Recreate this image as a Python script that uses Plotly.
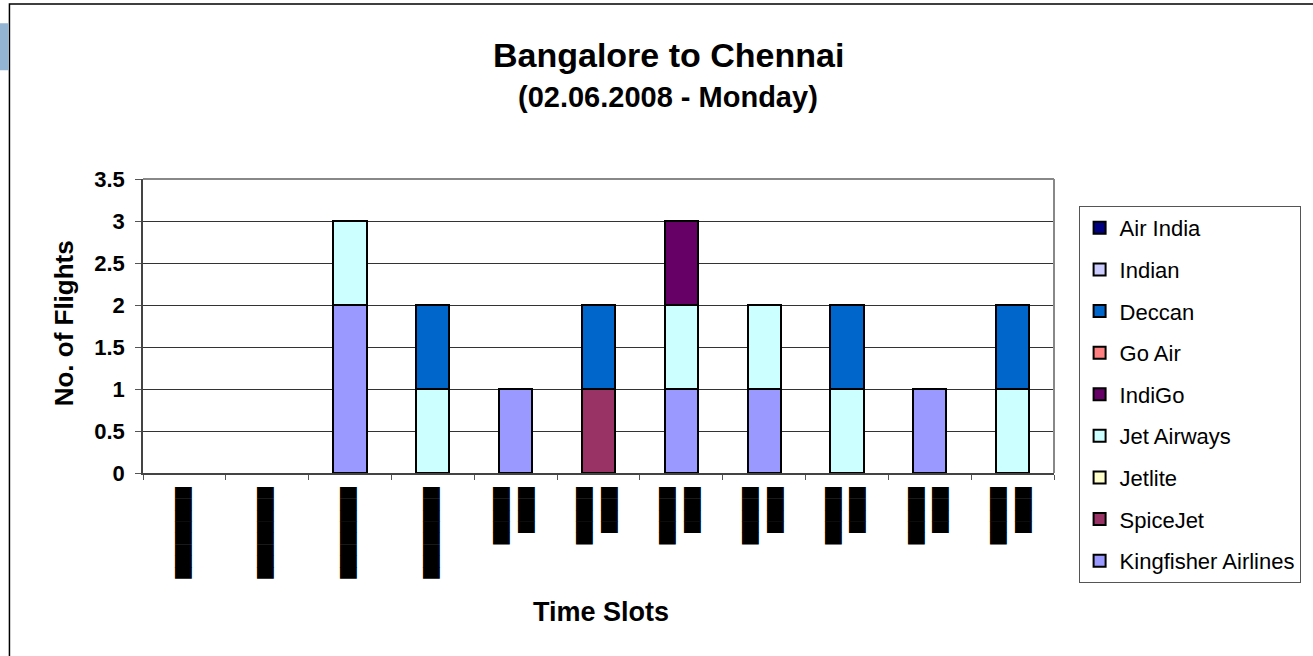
import plotly.graph_objects as go

# time slots (their labels are blacked out in the source chart)
slots = ["s1", "s2", "s3", "s4", "s5", "s6", "s7", "s8", "s9", "s10", "s11"]
BAR = "\u2586"
slot_labels = [
    BAR * 8, BAR * 8, BAR * 8, BAR * 8,
    BAR * 5 + "<br>" + BAR * 4,
    BAR * 5 + "<br>" + BAR * 4,
    BAR * 5 + "<br>" + BAR * 4,
    BAR * 5 + "<br>" + BAR * 4,
    BAR * 5 + "<br>" + BAR * 4,
    BAR * 5 + "<br>" + BAR * 4,
    BAR * 5 + "<br>" + BAR * 4,
]

# flights per airline per slot (stack order bottom -> top)
kingfisher = [0, 0, 2, 0, 1, 0, 1, 1, 0, 1, 0]
spicejet = [0, 0, 0, 0, 0, 1, 0, 0, 0, 0, 0]
jetlite = [0, 0, 0, 0, 0, 0, 0, 0, 0, 0, 0]
jet_airways = [0, 0, 1, 1, 0, 0, 1, 1, 1, 0, 1]
indigo = [0, 0, 0, 0, 0, 0, 1, 0, 0, 0, 0]
go_air = [0, 0, 0, 0, 0, 0, 0, 0, 0, 0, 0]
deccan = [0, 0, 0, 1, 0, 1, 0, 0, 1, 0, 1]
indian = [0, 0, 0, 0, 0, 0, 0, 0, 0, 0, 0]
air_india = [0, 0, 0, 0, 0, 0, 0, 0, 0, 0, 0]

series = [
    ("Kingfisher Airlines", kingfisher, "#9999FF"),
    ("SpiceJet", spicejet, "#993366"),
    ("Jetlite", jetlite, "#FFFFCC"),
    ("Jet Airways", jet_airways, "#CCFFFF"),
    ("IndiGo", indigo, "#660066"),
    ("Go Air", go_air, "#FF8080"),
    ("Deccan", deccan, "#0066CC"),
    ("Indian", indian, "#CCCCFF"),
    ("Air India", air_india, "#000080"),
]

FONT = "Liberation Sans, Arial, sans-serif"

fig = go.Figure()
for i, (name, vals, col) in enumerate(series):
    fig.add_trace(go.Bar(
        x=slots, y=[v if v else None for v in vals], name=name,
        legendgroup=name, legendrank=len(series) - i,
        marker=dict(color=col, line=dict(color="black", width=2)),
    ))

fig.update_layout(
    width=1313, height=656,
    barmode="stack", bargap=0.6,
    paper_bgcolor="white", plot_bgcolor="white",
    margin=dict(l=143, r=256, t=179, b=183),
    font=dict(family=FONT, color="black"),
    legend=dict(
        x=1.027, xanchor="left", y=0.908, yanchor="top",
        traceorder="grouped", tracegroupgap=10, maxheight=500,
        font=dict(size=22, family=FONT),
        bordercolor="#555", borderwidth=1, bgcolor="white",
    ),
    showlegend=True,
)

fig.update_yaxes(
    range=[0, 3.5], dtick=0.5,
    showgrid=True, gridcolor="#333", gridwidth=1,
    showline=True, linecolor="#444", linewidth=1.5,
    ticks="outside", ticklen=6, tickcolor="#555",
    tickfont=dict(size=22, family=FONT, weight="bold"), tickformat="~g",
    ticklabelstandoff=6,
)
fig.update_xaxes(
    tickmode="array", tickvals=slots, ticktext=slot_labels,
    tickangle=-90, tickson="boundaries",
    ticks="outside", ticklen=5, tickcolor="#555",
    tickfont=dict(size=19, family="DejaVu Sans Mono", color="black"),
    ticklabelstandoff=5, ticklabelshift=-4,
    showline=True, linecolor="#444", linewidth=1.5,
)

# plot area top/right border in grey
fig.add_shape(type="line", xref="paper", yref="paper", x0=0, x1=1, y0=1, y1=1,
              line=dict(color="#888", width=2))
fig.add_shape(type="line", xref="paper", yref="paper", x0=1, x1=1, y0=0, y1=1,
              line=dict(color="#888", width=2))
# outer chart frame and small tab at left
fig.add_shape(type="rect", xref="paper", yref="paper", x0=-0.1466, x1=1.4, y0=-1.0, y1=1.595,
              line=dict(color="black", width=1.5), fillcolor="rgba(0,0,0,0)", layer="below")
fig.add_shape(type="rect", xref="paper", yref="paper", x0=-0.17, x1=-0.1475, y0=1.37, y1=1.53,
              line=dict(width=0), fillcolor="#93B5D3")

# titles
fig.add_annotation(text="<b>Bangalore to Chennai</b>", xref="paper", yref="paper",
                   x=0.5766, y=1.422, xanchor="center", yanchor="middle",
                   showarrow=False, font=dict(size=34, family=FONT))
fig.add_annotation(text="<b>(02.06.2008 - Monday)</b>", xref="paper", yref="paper",
                   x=0.5766, y=1.279, xanchor="center", yanchor="middle",
                   showarrow=False, font=dict(size=29, family=FONT))
fig.add_annotation(text="<b>No. of Flights</b>", xref="paper", yref="paper",
                   x=-0.0864, y=0.51, xanchor="center", yanchor="middle", textangle=-90,
                   showarrow=False, font=dict(size=26, family=FONT))
fig.add_annotation(text="<b>Time Slots</b>", xref="paper", yref="paper",
                   x=0.503, y=-0.473, xanchor="center", yanchor="middle",
                   showarrow=False, font=dict(size=27, family=FONT))

fig.write_html("out.html", config={"displayModeBar": False},
               post_script="document.body.style.margin='0';")
